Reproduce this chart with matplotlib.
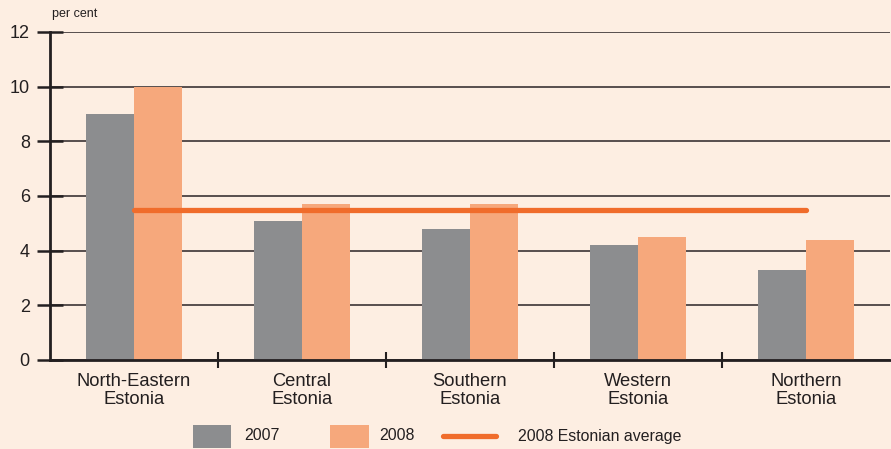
import matplotlib
matplotlib.use("Agg")
import matplotlib.pyplot as plt
from matplotlib.patches import Rectangle
from matplotlib.lines import Line2D
import numpy as np

categories = ["North-Eastern\nEstonia", "Central\nEstonia", "Southern\nEstonia", "Western\nEstonia", "Northern\nEstonia"]
values_2007 = [9.0, 5.1, 4.8, 4.2, 3.3]
values_2008 = [10.0, 5.7, 5.7, 4.5, 4.4]
average_2008 = 5.5
yticks = [0, 2, 4, 6, 8, 10, 12]
legend_labels = ["2007", "2008", "2008 Estonian average"]

BG = "#FDEEE2"
GRAY = "#8C8D8F"
ORANGE = "#F6A87C"
LINE = "#F06C2B"
DARK = "#231F20"

plt.rcParams['font.family'] = ['Liberation Sans', 'DejaVu Sans']

fig = plt.figure(figsize=(8.91, 4.49), dpi=100, facecolor=BG)
W, H = 891, 449
ax = fig.add_axes([50 / W, (H - 360) / H, 840 / W, 328 / H])
ax.set_facecolor(BG)

x = np.arange(len(categories))
bw = 0.285
ax.bar(x - bw / 2, values_2007, width=bw, color=GRAY, zorder=2, linewidth=0)
ax.bar(x + bw / 2, values_2008, width=bw, color=ORANGE, zorder=2, linewidth=0)
ax.plot([x[0], x[-1]], [average_2008, average_2008], color=LINE, lw=3.8,
        solid_capstyle='round', zorder=3)

ax.set_xlim(-0.5, len(categories) - 0.5)
ax.set_ylim(0, 12)
ax.set_yticks(yticks)
ax.set_yticklabels([str(v) for v in yticks], fontsize=13, color=DARK)
ax.yaxis.grid(True, color="#4A4242", lw=1.3, zorder=1)
ax.set_axisbelow(True)

ax.set_xticks(np.arange(len(categories) + 1)[1:-1] - 0.5)
ax.set_xticklabels([])
ax.set_xticks(x, minor=True)
ax.set_xticklabels(categories, minor=True, fontsize=13.2, color=DARK, linespacing=1.08)
ax.tick_params(axis='x', which='major', direction='inout', length=12, width=1.5, color=DARK)
ax.tick_params(axis='x', which='minor', length=0, pad=9)
ax.tick_params(axis='y', direction='inout', length=19, width=1.8, color=DARK, pad=5)

for s in ['top', 'right']:
    ax.spines[s].set_visible(False)
for s in ['left', 'bottom']:
    ax.spines[s].set_color(DARK)
    ax.spines[s].set_linewidth(2.0)

fig.text(52 / W, 1 - 14 / H, "per cent", fontsize=9, color=DARK, va='center', ha='left')

# legend (manual)
ly = 1 - 436 / H
fs_leg = 11.4
fig.add_artist(Rectangle((193 / W, 1 - 448 / H), 38 / W, 23 / H, transform=fig.transFigure,
                         facecolor=GRAY, edgecolor='none'))
fig.text(244 / W, ly, legend_labels[0], fontsize=fs_leg, color=DARK, va='center', ha='left')
fig.add_artist(Rectangle((330 / W, 1 - 448 / H), 39 / W, 23 / H, transform=fig.transFigure,
                         facecolor=ORANGE, edgecolor='none'))
fig.text(379 / W, ly, legend_labels[1], fontsize=fs_leg, color=DARK, va='center', ha='left')
fig.add_artist(Line2D([443 / W, 496 / W], [ly, ly], transform=fig.transFigure,
                      color=LINE, lw=3.8, solid_capstyle='round'))
fig.text(518 / W, ly, legend_labels[2], fontsize=fs_leg, color=DARK, va='center', ha='left')

fig.savefig("out.png", dpi=100, facecolor=BG)
